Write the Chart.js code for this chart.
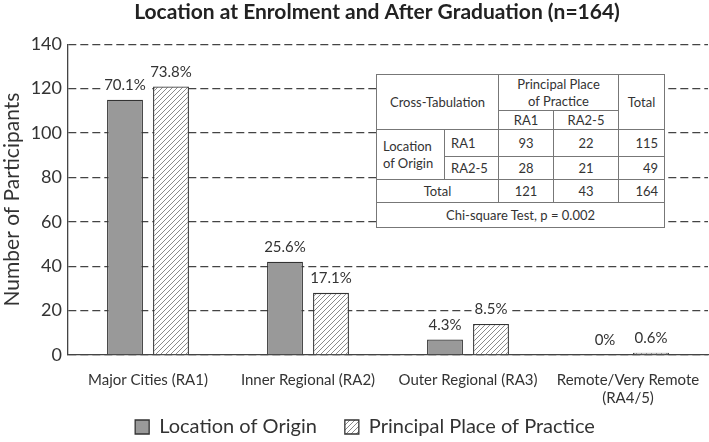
<!DOCTYPE html>
<html>
<head>
<meta charset="utf-8">
<script src="https://cdn.jsdelivr.net/npm/chart.js@4.4.1/dist/chart.umd.min.js"></script>
<style>
  html, body { margin: 0; padding: 0; background: #fff; }
  #wrap { position: relative; width: 709px; height: 442px; }
  #tbl {
    position: absolute; left: 376px; top: 74px; width: 288px; height: 154px;
    border-collapse: collapse; background: #fff; table-layout: fixed;
    font-family: Lato, "Liberation Sans", sans-serif; font-size: 13px; color: #333;
  }
  #tbl td { border: 1px solid #777; padding: 0 3px; text-align: center; line-height: 17px; }
  #tbl td.r { text-align: right; padding-right: 6px; }
  #tbl td.l { text-align: left; padding-left: 6px; }
</style>
</head>
<body>
<div id="wrap">
  <canvas id="c" width="709" height="442"></canvas>
  <table id="tbl"></table>
</div>
<script>
// ---- Data ----
const categories = [
  "Major Cities (RA1)",
  "Inner Regional (RA2)",
  "Outer Regional (RA3)",
  ["Remote/Very Remote", "(RA4/5)"]
];
const originValues = [115, 42, 7, 0];
const practiceValues = [121, 28, 14, 1];
const originLabels = ["70.1%", "25.6%", "4.3%", "0%"];
const practiceLabels = ["73.8%", "17.1%", "8.5%", "0.6%"];
const yTicks = [0, 20, 40, 60, 80, 100, 120, 140];
const seriesNames = ["Location of Origin", "Principal Place of Practice"];

// Cross-tabulation table contents
const tableHeader = ["Cross-Tabulation", "Principal Place of Practice", "Total"];
const tableSubHeader = ["RA1", "RA2-5"];
const rowGroupLabel = "Location of Origin";
const rowLabels = ["RA1", "RA2-5"];
const rowRA1 = [93, 22, 115];
const rowRA25 = [28, 21, 49];
const rowTotal = [121, 43, 164];
const totalLabel = "Total";
const chiSquareNote = "Chi-square Test, p = 0.002";

// ---- Table ----
(function buildTable() {
  const t = document.getElementById('tbl');
  const colW = [68, 54, 55, 65, 46];
  let html = '<colgroup>' + colW.map(w => `<col style="width:${w}px">`).join('') + '</colgroup>';
  html += `<tr style="height:36px"><td colspan="2" rowspan="2">${tableHeader[0]}</td><td colspan="2">Principal Place<br>of Practice</td><td rowspan="2">${tableHeader[2]}</td></tr>`;
  html += `<tr style="height:19px"><td>${tableSubHeader[0]}</td><td>${tableSubHeader[1]}</td></tr>`;
  html += `<tr style="height:27px"><td rowspan="2" class="l">Location<br>of Origin</td><td class="l">${rowLabels[0]}</td><td>${rowRA1[0]}</td><td>${rowRA1[1]}</td><td class="r">${rowRA1[2]}</td></tr>`;
  html += `<tr style="height:23px"><td class="l">${rowLabels[1]}</td><td>${rowRA25[0]}</td><td>${rowRA25[1]}</td><td class="r">${rowRA25[2]}</td></tr>`;
  html += `<tr style="height:23px"><td colspan="2">${totalLabel}</td><td>${rowTotal[0]}</td><td>${rowTotal[1]}</td><td class="r">${rowTotal[2]}</td></tr>`;
  html += `<tr style="height:25px"><td colspan="5">${chiSquareNote}</td></tr>`;
  t.innerHTML = html;
})();

// ---- Hatch pattern ----
function makeHatch() {
  const s = 5;
  const pc = document.createElement('canvas');
  pc.width = s; pc.height = s;
  const p = pc.getContext('2d');
  p.fillStyle = '#ffffff';
  p.fillRect(0, 0, s, s);
  p.strokeStyle = '#8a8a8a';
  p.lineWidth = 1;
  p.beginPath();
  p.moveTo(0, s); p.lineTo(s, 0);
  p.moveTo(-1, 1); p.lineTo(1, -1);
  p.moveTo(s - 1, s + 1); p.lineTo(s + 1, s - 1);
  p.stroke();
  return document.getElementById('c').getContext('2d').createPattern(pc, 'repeat');
}
const hatch = makeHatch();

const FONT = "Lato, 'Liberation Sans', sans-serif";
const LEGEND_PAD = 28;
const LEGEND_H = 32;
const LEGEND_TEXT_Y = 427;
const LEGEND_CENTER_X = 365;
const TITLE_CENTER_X = 377;

const dataLabelPlugin = {
  id: 'dataLabels',
  afterDatasetsDraw(chart) {
    const ctx = chart.ctx;
    const sets = [originLabels, practiceLabels];
    ctx.save();
    ctx.font = `15px ${FONT}`;
    ctx.textAlign = 'center';
    ctx.textBaseline = 'bottom';
    chart.data.datasets.forEach((ds, i) => {
      const meta = chart.getDatasetMeta(i);
      meta.data.forEach((bar, j) => {
        const txt = sets[i][j];
        const w = ctx.measureText(txt).width;
        const yb = bar.y - 7;
        ctx.fillStyle = '#ffffff';
        ctx.fillRect(bar.x - w / 2 - 3, yb - 16, w + 6, 15);
        ctx.fillStyle = '#333';
        ctx.fillText(txt, bar.x, yb);
      });
    });
    ctx.restore();
  }
};

// Keep legend item spacing but a compact, positioned legend; shift title
const layoutTweakPlugin = {
  id: 'layoutTweak',
  afterInit(chart) {
    const lg = chart.legend;
    if (lg) {
      const origFit = lg.fit.bind(lg);
      lg.fit = function () { origFit(); this.height = LEGEND_H; };
      const origDraw = lg.draw.bind(lg);
      lg.draw = function () {
        const saved = [this.left, this.right, this.top, this.bottom];
        const fontSize = this.options.labels.font.size;
        const itemH = Math.max(this.options.labels.boxHeight || 0, fontSize);
        const newTop = LEGEND_TEXT_Y - LEGEND_PAD - itemH / 2;
        const dx = LEGEND_CENTER_X - (this.left + this.right) / 2;
        this.left += dx; this.right += dx;
        this.top = newTop; this.bottom = newTop + LEGEND_PAD * 2 + itemH;
        origDraw();
        [this.left, this.right, this.top, this.bottom] = saved;
      };
    }
    const tt = chart.titleBlock;
    if (tt) {
      const origTDraw = tt.draw.bind(tt);
      tt.draw = function () {
        const dx = TITLE_CENTER_X - (this.left + this.right) / 2;
        const ctx = this.ctx;
        ctx.save();
        ctx.translate(dx, 0);
        origTDraw();
        ctx.restore();
      };
    }
  }
};

new Chart(document.getElementById('c'), {
  type: 'bar',
  data: {
    labels: categories,
    datasets: [
      {
        label: seriesNames[0],
        data: originValues,
        backgroundColor: '#999999',
        borderColor: '#333333',
        borderWidth: 1.3
      },
      {
        label: seriesNames[1],
        data: practiceValues,
        backgroundColor: hatch,
        borderColor: '#333333',
        borderWidth: 1.3
      }
    ]
  },
  options: {
    responsive: false,
    animation: false,
    devicePixelRatio: 1,
    categoryPercentage: 0.575,
    barPercentage: 0.78,
    layout: { padding: { left: 0, right: 1, top: 0, bottom: 0 } },
    plugins: {
      title: {
        display: true,
        text: 'Location at Enrolment and After Graduation (n=164)',
        font: { family: FONT, size: 21, weight: 'bold' },
        color: '#222',
        padding: { top: 0, bottom: 19 }
      },
      legend: {
        position: 'bottom',
        labels: {
          font: { family: FONT, size: 20 },
          color: '#333',
          boxWidth: 14,
          boxHeight: 14,
          padding: LEGEND_PAD
        }
      },
      tooltip: { enabled: false }
    },
    scales: {
      x: {
        afterFit(scale) { scale.height = 55; },
        grid: { display: false },
        border: { display: true, color: '#444', width: 1.3 },
        ticks: {
          font: { family: FONT, size: 15 },
          color: '#333',
          maxRotation: 0,
          autoSkip: false,
          padding: 8
        }
      },
      y: {
        min: 0,
        max: 140,
        afterBuildTicks(scale) { scale.ticks = yTicks.map(v => ({ value: v })); },
        afterFit(scale) { scale.width = 68; },
        grid: { color: '#444', lineWidth: 1.3, drawTicks: false },
        border: { display: true, color: '#444', width: 1.3, dash: [8, 4] },
        ticks: {
          font: { family: FONT, size: 18 },
          color: '#333',
          padding: 6
        },
        title: {
          display: true,
          text: 'Number of Participants',
          font: { family: FONT, size: 21 },
          color: '#333',
          padding: { top: 0, bottom: 2 }
        }
      }
    }
  },
  plugins: [dataLabelPlugin, layoutTweakPlugin]
});
</script>
</body>
</html>
